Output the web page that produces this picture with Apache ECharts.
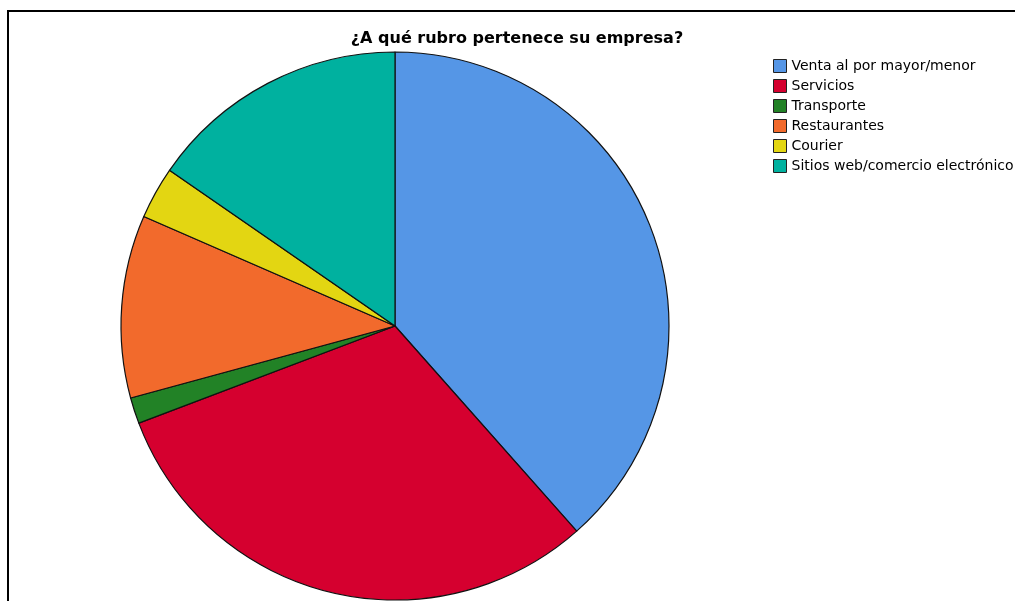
<!DOCTYPE html>
<html>
<head>
<meta charset="utf-8">
<script src="https://cdn.jsdelivr.net/npm/echarts@6/dist/echarts.min.js"></script>
<style>
  html, body { margin: 0; padding: 0; background: #fff; }
  #chart { width: 1015px; height: 601px; }
</style>
</head>
<body>
<div id="chart"></div>
<script>
// Respuestas por rubro de empresa
const categories = [
  'Venta al por mayor/menor',
  'Servicios',
  'Transporte',
  'Restaurantes',
  'Courier',
  'Sitios web/comercio electrónico'
];
const counts = [25, 20, 1, 7, 2, 10];
const colors = ['#5596e6', '#d5002f', '#228226', '#f26a2c', '#e3d612', '#00b19f'];

const chart = echarts.init(document.getElementById('chart'), null, { renderer: 'canvas' });

chart.setOption({
  animation: false,
  backgroundColor: '#fff',
  title: {
    text: '¿A qué rubro pertenece su empresa?',
    left: 517,
    textAlign: 'center',
    top: 31,
    padding: 0,
    textStyle: {
      fontFamily: 'DejaVu Sans, sans-serif',
      fontSize: 16,
      fontWeight: 'bold',
      color: '#000'
    }
  },
  legend: {
    orient: 'vertical',
    left: 773,
    top: 58,
    padding: 0,
    itemWidth: 13,
    itemHeight: 13,
    itemGap: 4,
    icon: 'rect',
    selectedMode: false,
    itemStyle: { borderColor: '#222', borderWidth: 1 },
    textStyle: {
      fontFamily: 'DejaVu Sans, sans-serif',
      fontSize: 14,
      lineHeight: 16,
      color: '#000'
    },
    data: categories
  },
  graphic: [{
    type: 'polyline',
    shape: { points: [[8, 640], [8, 11], [1100, 11]] },
    style: { stroke: '#000', lineWidth: 2, fill: null },
    silent: true
  }],
  series: [{
    type: 'pie',
    center: [395, 326],
    radius: 274,
    startAngle: 90,
    clockwise: true,
    label: { show: false },
    labelLine: { show: false },
    emphasis: { disabled: true },
    itemStyle: { borderColor: '#111', borderWidth: 1.2 },
    data: categories.map((name, i) => ({
      name,
      value: counts[i],
      itemStyle: { color: colors[i] }
    }))
  }]
});
</script>
</body>
</html>
